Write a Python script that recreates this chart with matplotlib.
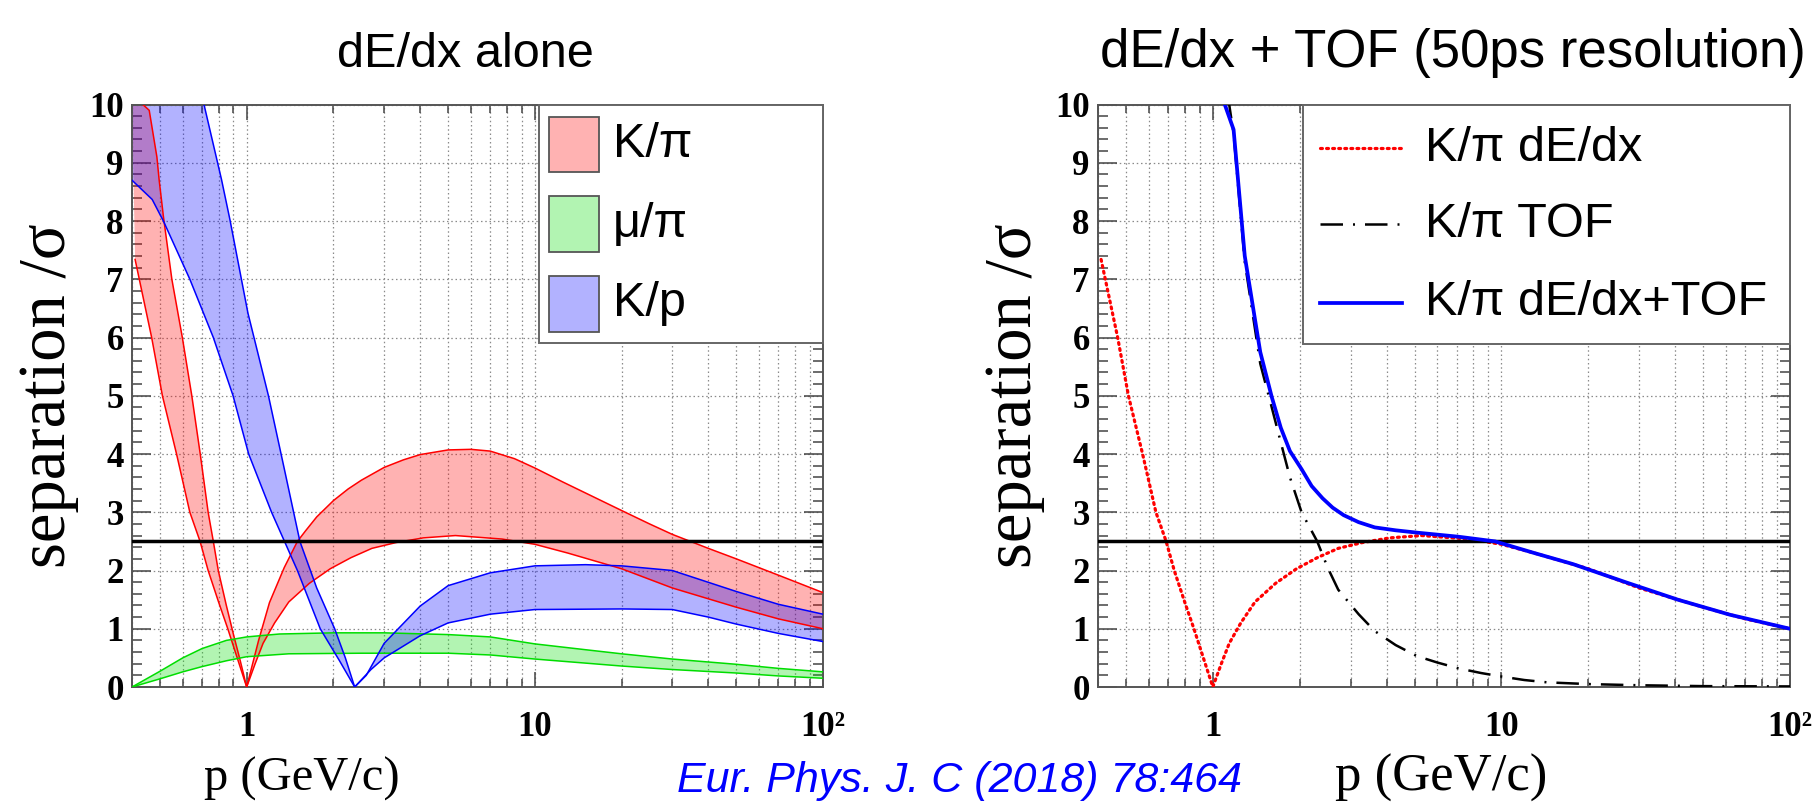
import numpy as np
import matplotlib
matplotlib.use("Agg")
import matplotlib.pyplot as plt
from matplotlib.ticker import NullFormatter
from matplotlib.patches import Rectangle
from matplotlib.lines import Line2D

# ---------------- data ----------------
# K/pi band (dE/dx alone), upper and lower edges
kpi_hi_p = [0.4, 0.436, 0.459, 0.488, 0.497, 0.514, 0.55, 0.598, 0.645, 0.69, 0.735, 0.766,
            0.797, 0.85, 0.9, 0.95, 1.0, 1.1, 1.2, 1.35, 1.5, 1.6, 1.75, 2.0, 2.25, 2.5,
            3.0, 3.5, 4.0, 5.0, 6.0, 7.0, 8.5, 10.0, 12.5, 15.0, 20.0, 25.0, 30.0, 40.0,
            50.0, 70.0, 100.0]
kpi_hi = [10.05, 10.0, 9.9, 9.1, 8.7, 8.08, 7.0, 6.0, 5.0, 4.0, 3.0, 2.5,
          2.0, 1.4, 0.9, 0.45, 0.0, 0.8, 1.45, 2.05, 2.5, 2.68, 2.92, 3.2, 3.4, 3.55,
          3.77, 3.9, 3.99, 4.07, 4.08, 4.05, 3.92, 3.76, 3.52, 3.33, 3.03, 2.8, 2.62, 2.38,
          2.2, 1.92, 1.62]
kpi_lo_p = [0.41, 0.424, 0.468, 0.51, 0.571, 0.635, 0.689, 0.735, 0.8, 0.86, 0.93, 1.0,
            1.07, 1.14, 1.25, 1.4, 1.65, 1.95, 2.3, 2.72, 3.3, 4.1, 5.3, 7.7, 10.0, 13.0,
            20.0, 30.0, 50.0, 70.0, 100.0]
kpi_lo = [7.34, 7.0, 6.0, 5.0, 4.0, 3.0, 2.5, 2.0, 1.45, 1.0, 0.48, 0.0,
          0.4, 0.75, 1.1, 1.46, 1.78, 2.03, 2.22, 2.38, 2.48, 2.56, 2.6, 2.54, 2.45, 2.3,
          2.03, 1.7, 1.37, 1.17, 1.0]

# mu/pi band
mupi_hi_p = [0.4, 0.5, 0.6, 0.7, 0.85, 1.0, 1.3, 2.0, 3.0, 5.0, 7.0, 10.0, 15.0, 20.0,
             30.0, 50.0, 70.0, 100.0]
mupi_hi = [0.0, 0.27, 0.5, 0.66, 0.8, 0.86, 0.91, 0.93, 0.93, 0.9, 0.86, 0.74, 0.64, 0.57,
           0.48, 0.39, 0.32, 0.26]
mupi_lo_p = [0.4, 0.5, 0.6, 0.7, 0.85, 1.0, 1.4, 2.5, 5.0, 7.0, 10.0, 15.0, 20.0, 30.0,
             50.0, 70.0, 100.0]
mupi_lo = [0.0, 0.14, 0.26, 0.35, 0.45, 0.52, 0.57, 0.58, 0.58, 0.55, 0.48, 0.41, 0.36,
           0.3, 0.24, 0.19, 0.15]

# K/p band
kp_hi_p = [0.4, 0.5, 0.6, 0.69, 0.711, 0.818, 0.875, 1.01, 1.19, 1.35, 1.53, 1.75, 2.02,
           2.2, 2.37, 2.6, 3.0, 4.0, 5.0, 7.0, 10.0, 15.0, 20.0, 30.0, 50.0, 70.0, 100.0]
kp_hi = [13.5, 12.3, 11.2, 10.4, 10.0, 8.71, 8.02, 6.42, 5.0, 3.75, 2.5, 1.7, 1.0,
         0.5, 0.0, 0.2, 0.75, 1.39, 1.74, 1.96, 2.08, 2.1, 2.08, 2.0, 1.64, 1.42, 1.25]
kp_lo_p = [0.4, 0.47, 0.514, 0.635, 0.766, 0.897, 1.016, 1.22, 1.5, 1.8, 2.1, 2.37, 2.7,
           3.0, 4.0, 5.0, 7.0, 10.0, 20.0, 30.0, 40.0, 50.0, 70.0, 100.0]
kp_lo = [8.7, 8.37, 8.0, 7.0, 6.0, 5.0, 4.0, 3.0, 2.0, 1.0, 0.45, 0.0, 0.3,
         0.5, 0.88, 1.1, 1.25, 1.33, 1.34, 1.33, 1.2, 1.08, 0.92, 0.78]

# K/pi TOF (50 ps) and combined dE/dx + TOF
tof_p = [1.07, 1.18, 1.29, 1.46, 1.6, 1.72, 1.85, 2.03, 2.3, 2.5, 2.72, 3.2, 3.64, 4.3,
         5.1, 6.0, 7.1, 8.5, 10.0, 12.0, 14.4, 20.0, 30.0, 50.0, 100.0]
tof = [10.9, 9.5, 7.3, 5.55, 4.8, 4.2, 3.6, 3.0, 2.5, 2.05, 1.67, 1.25, 0.96, 0.72,
       0.53, 0.42, 0.32, 0.24, 0.18, 0.12, 0.08, 0.05, 0.03, 0.015, 0.01]
comb_p = [1.07, 1.1, 1.18, 1.29, 1.46, 1.6, 1.72, 1.85, 2.03, 2.2, 2.4, 2.6, 2.84, 3.2,
          3.64, 4.3, 5.1, 7.1, 9.5, 13.0, 17.7, 26.9, 40.8, 62.0, 96.0, 100.0]
comb = [10.9, 10.0, 9.57, 7.4, 5.75, 4.98, 4.45, 4.05, 3.74, 3.45, 3.24, 3.08, 2.95, 2.83,
        2.74, 2.69, 2.65, 2.58, 2.5, 2.3, 2.11, 1.8, 1.5, 1.24, 1.02, 1.0]

threshold = 2.5

x_major = [1, 10, 100]
x_major_labels = ["1", "10", "10\u00b2"]
x_minor = [0.4, 0.5, 0.6, 0.7, 0.8, 0.9, 2, 3, 4, 5, 6, 7, 8, 9,
           20, 30, 40, 50, 60, 70, 80, 90]
y_major = list(range(0, 11))
y_major_labels = [str(v) for v in y_major]
y_minor = [v / 5 for v in range(0, 51) if v % 5 != 0]

band_names = ["K/\u03c0", "\u03bc/\u03c0", "K/p"]
band_colors = ["#ff0000", "#00dd00", "#0000ff"]
line_names = ["K/\u03c0 dE/dx", "K/\u03c0 TOF", "K/\u03c0 dE/dx+TOF"]

# ---------------- figure ----------------
SERIF = "Liberation Serif"
SANS = "Liberation Sans"

fig = plt.figure(figsize=(18.17, 8.06), dpi=100)
axL = fig.add_axes([0.07265, 0.14764, 0.38030, 0.72270])
axR = fig.add_axes([0.60429, 0.14764, 0.38085, 0.72270])


def style_axes(ax):
    ax.set_xscale("log")
    ax.set_xlim(0.4, 100)
    ax.set_ylim(0, 10)
    ax.set_xticks(x_major, labels=x_major_labels, fontfamily=SERIF,
                  fontweight="bold", fontsize=25)
    ax.set_xticks(x_minor, minor=True)
    ax.xaxis.set_minor_formatter(NullFormatter())
    ax.set_yticks(y_major, labels=y_major_labels, fontfamily=SERIF,
                  fontweight="bold", fontsize=25)
    ax.set_yticks(y_minor, minor=True)
    ax.set_axisbelow(True)
    ax.grid(True, which="both", axis="x", color="#8a8a8a",
            linestyle=(0, (1.2, 2.2)), linewidth=0.9)
    ax.grid(True, which="major", axis="y", color="#8a8a8a",
            linestyle=(0, (1.2, 2.2)), linewidth=0.9)
    ax.tick_params(axis="both", which="both", direction="in", top=True,
                   right=True, color="#444444", width=1.1)
    ax.tick_params(axis="x", which="major", length=11, pad=17)
    ax.tick_params(axis="x", which="minor", length=6)
    ax.tick_params(axis="y", which="major", length=14, pad=6)
    ax.tick_params(axis="y", which="minor", length=7)
    for s in ax.spines.values():
        s.set_color("#555555")
        s.set_linewidth(1.4)
    ax.axhline(threshold, color="black", lw=2.5, zorder=4)


style_axes(axL)
style_axes(axR)

# ---------------- left panel: bands ----------------
bands = [(kpi_hi_p, kpi_hi, kpi_lo_p, kpi_lo),
         (mupi_hi_p, mupi_hi, mupi_lo_p, mupi_lo),
         (kp_hi_p, kp_hi, kp_lo_p, kp_lo)]
for (hp, hv, lp, lv), col in zip(bands, band_colors):
    xs = list(hp) + list(lp)[::-1]
    ys = list(hv) + list(lv)[::-1]
    axL.fill(xs, ys, facecolor=col, alpha=0.3, edgecolor="none", zorder=2)
    axL.plot(hp, hv, color=col, lw=1.1, zorder=3)
    axL.plot(lp, lv, color=col, lw=1.1, zorder=3)

# ---------------- right panel: lines ----------------
axR.plot(kpi_lo_p, kpi_lo, color="#ff0000", lw=2.3, linestyle=(0, (0.6, 1.3)),
         dash_capstyle="round", zorder=3)
axR.plot(tof_p, tof, color="black", lw=1.8, linestyle=(0, (9, 4, 0.8, 4)), zorder=3)
axR.plot(comb_p, comb, color="#0000ff", lw=2.7, zorder=5)

# ---------------- legends (drawn in axes coordinates) ----------------
def legend_frame(ax, x0, y0):
    ax.add_patch(Rectangle((x0, y0), 1 - x0, 1 - y0, transform=ax.transAxes,
                           facecolor="white", edgecolor="#666666", lw=1.4,
                           zorder=6, clip_on=False))


legend_frame(axL, 0.5886, 0.5911)
sw_y0 = [0.8836, 0.7468, 0.6100]
txt_yL = [0.9313, 0.7948, 0.6581]
for name, col, y0, ty in zip(band_names, band_colors, sw_y0, txt_yL):
    axL.add_patch(Rectangle((0.6034, y0), 0.0724, 0.0954, transform=axL.transAxes,
                            facecolor=matplotlib.colors.to_rgba(col, 0.3),
                            edgecolor="#555555", lw=1.3, zorder=7))
    axL.text(0.6957, ty, name, transform=axL.transAxes, fontfamily=SANS,
             fontsize=35, va="center", ha="left", zorder=8)

legend_frame(axR, 0.2962, 0.5888)
line_styles = [dict(color="#ff0000", lw=2.3, linestyle=(0, (0.6, 1.3)), dash_capstyle="round"),
               dict(color="black", lw=1.8, linestyle=(0, (9, 4, 0.8, 4))),
               dict(color="#0000ff", lw=2.7)]
txt_yR = [0.9245, 0.7943, 0.6597]
for name, st, ty in zip(line_names, line_styles, txt_yR):
    axR.add_line(Line2D([0.3208, 0.4393], [ty, ty], transform=axR.transAxes,
                        zorder=7, **st))
    axR.text(0.4725, ty, name, transform=axR.transAxes, fontfamily=SANS,
             fontsize=35, va="center", ha="left", zorder=8)

# ---------------- titles and labels ----------------
fig.text(0.2559, 0.917, "dE/dx alone", fontfamily=SANS, fontsize=35,
         ha="center", va="baseline")
fig.text(0.7997, 0.917, "dE/dx + TOF (50ps resolution)", fontfamily=SANS,
         fontsize=38, ha="center", va="baseline")

for x in (0.0267, 0.5583):
    fig.text(x, 0.509, "separation /\u03c3", fontfamily=SERIF, fontsize=48,
             rotation=90, ha="center", va="center")
fig.text(0.1662, 0.0186, "p (GeV/c)", fontfamily=SERIF, fontsize=35,
         ha="center", va="baseline")
fig.text(0.7934, 0.0186, "p (GeV/c)", fontfamily=SERIF, fontsize=38,
         ha="center", va="baseline")

fig.text(0.5283, 0.0174, "Eur. Phys. J. C (2018) 78:464", fontfamily=SANS,
         fontstyle="italic", fontsize=31, color="#0000ff", ha="center",
         va="baseline")

fig.savefig("out.png", dpi=100)
